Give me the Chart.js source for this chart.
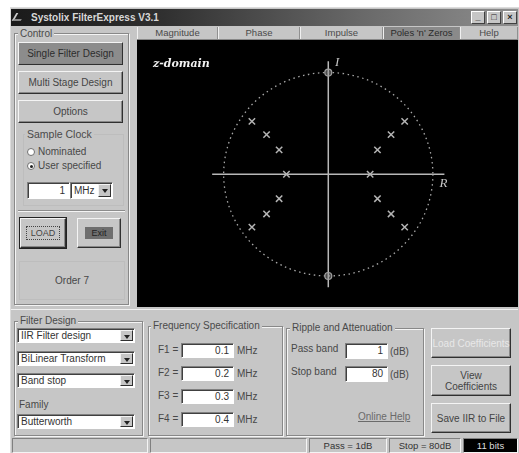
<!DOCTYPE html>
<html>
<head>
<meta charset="utf-8">
<title>Systolix FilterExpress V3.1</title>
<script src="https://cdn.jsdelivr.net/npm/chart.js@4.4.1/dist/chart.umd.min.js"></script>
<style>
*{box-sizing:border-box;margin:0;padding:0}
body{width:519px;height:453px;background:#fff;position:relative;overflow:hidden;
  font-family:"Liberation Sans",Arial,sans-serif;font-size:10px;color:#3a3a3a}
.a{position:absolute}
#win{left:10px;top:7px;width:509px;height:446px;background:#c6c6c6;border-top:1px solid #dcdcdc;border-left:1px solid #dcdcdc}
#title{left:11px;top:9px;width:507px;height:17px;
  background:linear-gradient(to right,#1a1a1a 0%,#303030 30%,#6a6a6a 70%,#8e8e8e 100%)}
#title span{position:absolute;left:20px;top:0;line-height:17px;font-weight:bold;color:#d8d8d8;font-size:10px}
#icon{left:14px;top:13px;width:9px;height:8px;border-left:2px solid #ccc;border-bottom:2px solid #888;transform:skewX(-30deg)}
.tb{top:11px;width:14px;height:13px;background:#c6c6c6;border:1px solid;border-color:#fff #404040 #404040 #fff;
  font-size:9px;line-height:11px;text-align:center;font-weight:bold;color:#222}
#tabs{left:137px;top:27px;width:381px;height:13px;background:#c6c6c6;border-bottom:1px solid #888}
.tab{top:27px;height:12px;line-height:12px;text-align:center;color:#4a4a4a;font-size:9.5px;border-right:1px solid #909090;border-left:1px solid #f0f0f0}
.tab.on{background:#8a8a8a;color:#2a2a2a}
.grp{border:1px solid #888;box-shadow:inset 1px 1px 0 #f4f4f4,1px 1px 0 #f4f4f4}
.gl{background:#c6c6c6;padding:0 2px;color:#4a4a4a;line-height:11px}
.btn{background:#c6c6c6;border:1px solid;border-color:#f4f4f4 #303030 #303030 #f4f4f4;
  box-shadow:inset -1px -1px 0 #888;text-align:center;color:#444;display:flex;align-items:center;justify-content:center}
.btn.dn{background:#8c8c8c;color:#2c2c2c}
.inp{background:#fff;border:1px solid;border-color:#808080 #fff #fff #808080;box-shadow:inset 1px 1px 0 #404040;
  text-align:right;padding-right:4px;color:#333}
.sel{background:#fff;border:1px solid;border-color:#808080 #fff #fff #808080;box-shadow:inset 1px 1px 0 #404040;color:#333;padding-left:3px}
.arr{position:absolute;right:1px;top:1px;bottom:1px;width:13px;background:#c6c6c6;border:1px solid;border-color:#f4f4f4 #303030 #303030 #f4f4f4}
.arr:after{content:"";position:absolute;left:3px;top:4px;border:3px solid transparent;border-top:4px solid #222}
.lbl{color:#484848;line-height:12px}
.rad{display:inline-block;width:8px;height:8px;border-radius:50%;background:#fff;border:1px solid #707070;margin-right:3px;vertical-align:-1px;position:relative}
.rad.on:after{content:"";position:absolute;left:1.5px;top:1.5px;width:3px;height:3px;border-radius:50%;background:#222}
.stat{top:438px;height:15px;border:1px solid;border-color:#808080 #f4f4f4 #f4f4f4 #808080;text-align:center;line-height:13px;color:#333;font-size:9.5px}
#plot{left:137px;top:40px;width:381px;height:267px;background:#000}
</style>
</head>
<body>
<div class="a" id="win"></div>
<div class="a" id="title"><span>Systolix FilterExpress V3.1</span></div>
<div class="a" id="icon"></div>
<div class="a tb" style="left:471px">_</div>
<div class="a tb" style="left:487px">□</div>
<div class="a tb" style="left:503px">×</div>

<div class="a" id="tabs"></div>
<div class="a tab" style="left:137px;width:81px">Magnitude</div>
<div class="a tab" style="left:218px;width:82px">Phase</div>
<div class="a tab" style="left:300px;width:83px">Impulse</div>
<div class="a tab on" style="left:383px;width:77px">Poles 'n' Zeros</div>
<div class="a tab" style="left:460px;width:58px">Help</div>

<!-- Control panel -->
<div class="a grp" style="left:14px;top:33px;width:115px;height:272px"></div>
<div class="a gl" style="left:18px;top:28px">Control</div>
<div class="a btn dn" style="left:18px;top:42px;width:105px;height:23px">Single Filter Design</div>
<div class="a btn" style="left:18px;top:71px;width:105px;height:23px">Multi Stage Design</div>
<div class="a btn" style="left:18px;top:100px;width:105px;height:23px">Options</div>
<div class="a grp" style="left:23px;top:134px;width:101px;height:72px;border-color:#bdbdbd;box-shadow:none"></div>
<div class="a gl" style="left:25px;top:129px;font-size:10.5px">Sample Clock</div>
<div class="a lbl" style="left:27px;top:146px"><span class="rad"></span>Nominated</div>
<div class="a lbl" style="left:27px;top:160px"><span class="rad on"></span>User specified</div>
<div class="a inp" style="left:27px;top:182px;width:43px;height:17px;line-height:15px">1</div>
<div class="a sel" style="left:70px;top:182px;width:43px;height:17px;line-height:15px">MHz<div class="arr"></div></div>
<div class="a" style="left:18px;top:210px;width:107px;height:2px;border-top:1px solid #8c8c8c;border-bottom:1px solid #f4f4f4"></div>
<div class="a btn" style="left:20px;top:218px;width:46px;height:30px;outline:1px solid #222;font-size:9px">
  <span style="border:1px dotted #444;padding:1px 4px">LOAD</span></div>
<div class="a btn" style="left:77px;top:218px;width:44px;height:30px;font-size:9px">
  <span style="background:#6e6e6e;color:#222;padding:1px 6px">Exit</span></div>
<div class="a" style="left:19px;top:261px;width:106px;height:39px;border:1px solid #bdbdbd;text-align:center;line-height:37px;color:#484848;font-size:10px">Order 7</div>

<!-- pole / zero plot -->
<div class="a" id="plot"><canvas id="pz" width="381" height="267"></canvas></div>

<div class="a" style="left:11px;top:309px;width:507px;height:1px;background:#f0f0f0"></div>

<!-- Filter design -->
<div class="a grp" style="left:14px;top:321px;width:129px;height:115px"></div>
<div class="a gl" style="left:18px;top:315px">Filter Design</div>
<div class="a sel" style="left:17px;top:328px;width:118px;height:15px;line-height:13px">IIR Filter design<div class="arr"></div></div>
<div class="a sel" style="left:17px;top:351px;width:118px;height:15px;line-height:13px">BiLinear Transform<div class="arr"></div></div>
<div class="a sel" style="left:17px;top:373px;width:118px;height:15px;line-height:13px">Band stop<div class="arr"></div></div>
<div class="a lbl" style="left:19px;top:399px">Family</div>
<div class="a sel" style="left:17px;top:414px;width:118px;height:15px;line-height:13px">Butterworth<div class="arr"></div></div>

<!-- Frequency specification -->
<div class="a grp" style="left:148px;top:326px;width:135px;height:110px"></div>
<div class="a gl" style="left:151px;top:320px">Frequency Specification</div>
<div class="a lbl" style="left:158px;top:344px">F1 =</div>
<div class="a inp" style="left:181px;top:343px;width:53px;height:15px;line-height:13px">0.1</div>
<div class="a lbl" style="left:237px;top:345px">MHz</div>
<div class="a lbl" style="left:158px;top:367px">F2 =</div>
<div class="a inp" style="left:181px;top:366px;width:53px;height:15px;line-height:13px">0.2</div>
<div class="a lbl" style="left:237px;top:368px">MHz</div>
<div class="a lbl" style="left:158px;top:390px">F3 =</div>
<div class="a inp" style="left:181px;top:389px;width:53px;height:15px;line-height:13px">0.3</div>
<div class="a lbl" style="left:237px;top:391px">MHz</div>
<div class="a lbl" style="left:158px;top:413px">F4 =</div>
<div class="a inp" style="left:181px;top:412px;width:53px;height:15px;line-height:13px">0.4</div>
<div class="a lbl" style="left:237px;top:414px">MHz</div>

<!-- Ripple and attenuation -->
<div class="a grp" style="left:286px;top:328px;width:138px;height:108px"></div>
<div class="a gl" style="left:290px;top:322px">Ripple and Attenuation</div>
<div class="a lbl" style="left:291px;top:343px">Pass band</div>
<div class="a inp" style="left:345px;top:343px;width:43px;height:16px;line-height:14px">1</div>
<div class="a lbl" style="left:390px;top:346px">(dB)</div>
<div class="a lbl" style="left:291px;top:366px">Stop band</div>
<div class="a inp" style="left:345px;top:366px;width:43px;height:16px;line-height:14px">80</div>
<div class="a lbl" style="left:390px;top:369px">(dB)</div>
<div class="a lbl" style="left:358px;top:411px;text-decoration:underline;color:#6a6a6a">Online Help</div>

<div class="a btn" style="left:431px;top:328px;width:80px;height:30px;color:#e8e8e8">Load Coefficients</div>
<div class="a btn" style="left:431px;top:365px;width:80px;height:31px;line-height:11px">View<br>Coefficients</div>
<div class="a btn" style="left:431px;top:403px;width:80px;height:30px">Save IIR to File</div>

<!-- status bar -->
<div class="a stat" style="left:12px;width:136px"></div>
<div class="a stat" style="left:150px;width:157px"></div>
<div class="a stat" style="left:309px;width:78px">Pass = 1dB</div>
<div class="a stat" style="left:389px;width:72px">Stop = 80dB</div>
<div class="a stat" style="left:463px;width:55px;background:#000;color:#ddd">11 bits</div>

<script>
// z-plane: real / imaginary parts of the poles and zeros
const poleRe = [-0.73, -0.59, -0.47, -0.40, -0.47, -0.59, -0.73,
                 0.73,  0.60,  0.47,  0.40,  0.47,  0.60,  0.73];
const poleIm = [ 0.52,  0.39,  0.24,  0.00, -0.24, -0.39, -0.52,
                 0.52,  0.39,  0.24,  0.00, -0.24, -0.39, -0.52];
const zeroRe = [0, 0];
const zeroIm = [1, -1];

// extent of the drawn real / imaginary axes and the unit circle radius
const axisReach = 1.11;
const unitRadius = 1;

const toPoints = (re, im) => re.map((r, i) => ({ x: r, y: im[i] }));

// unit circle, cross-hair axes and axis letters drawn under the markers
const zPlane = {
  id: 'zPlane',
  beforeDatasetsDraw(chart) {
    const { ctx, scales: { x, y }, chartArea } = chart;
    const cx = x.getPixelForValue(0), cy = y.getPixelForValue(0);
    ctx.save();
    ctx.fillStyle = '#f2f2f2';
    ctx.font = 'bold italic 11px "DejaVu Serif", "Liberation Serif", serif';
    ctx.textBaseline = 'top';
    ctx.fillText('z-domain', chartArea.left + 10, chartArea.top + 13);

    ctx.strokeStyle = '#b8b8b8';
    ctx.lineWidth = 1.5;
    ctx.beginPath();
    ctx.moveTo(x.getPixelForValue(-axisReach), cy);
    ctx.lineTo(x.getPixelForValue(axisReach), cy);
    ctx.moveTo(cx, y.getPixelForValue(axisReach));
    ctx.lineTo(cx, y.getPixelForValue(-axisReach));
    ctx.stroke();

    const rx = x.getPixelForValue(unitRadius) - cx;
    const ry = cy - y.getPixelForValue(unitRadius);
    ctx.strokeStyle = '#a8a8a8';
    ctx.lineWidth = 1.3;
    ctx.setLineDash([1.5, 3.5]);
    ctx.beginPath();
    ctx.ellipse(cx, cy, rx, ry, 0, 0, Math.PI * 2);
    ctx.stroke();
    ctx.setLineDash([]);

    ctx.fillStyle = '#c4c4c4';
    ctx.font = 'italic 13px "Liberation Serif", serif';
    ctx.textAlign = 'center';
    ctx.textBaseline = 'middle';
    ctx.fillText('I', x.getPixelForValue(0.085), y.getPixelForValue(1.10));
    ctx.fillText('R', x.getPixelForValue(1.10), y.getPixelForValue(-0.09));
    ctx.restore();
  }
};

new Chart(document.getElementById('pz'), {
  type: 'scatter',
  data: {
    datasets: [
      {
        label: 'Poles',
        data: toPoints(poleRe, poleIm),
        pointStyle: 'crossRot',
        pointRadius: 4.5,
        borderColor: '#b4b4b4',
        borderWidth: 1.5
      },
      {
        label: 'Zeros',
        data: toPoints(zeroRe, zeroIm),
        pointStyle: 'circle',
        pointRadius: 3.5,
        borderColor: '#a0a0a0',
        backgroundColor: 'rgba(150,150,150,0.5)',
        borderWidth: 1.2
      }
    ]
  },
  options: {
    responsive: false,
    animation: false,
    devicePixelRatio: 1,
    layout: { padding: 0 },
    plugins: { legend: { display: false }, tooltip: { enabled: false } },
    scales: {
      x: { type: 'linear', display: false, min: -1.771, max: 1.756 },
      y: { type: 'linear', display: false, min: -1.246, max: 1.261 }
    }
  },
  plugins: [zPlane]
});
</script>
</body>
</html>
